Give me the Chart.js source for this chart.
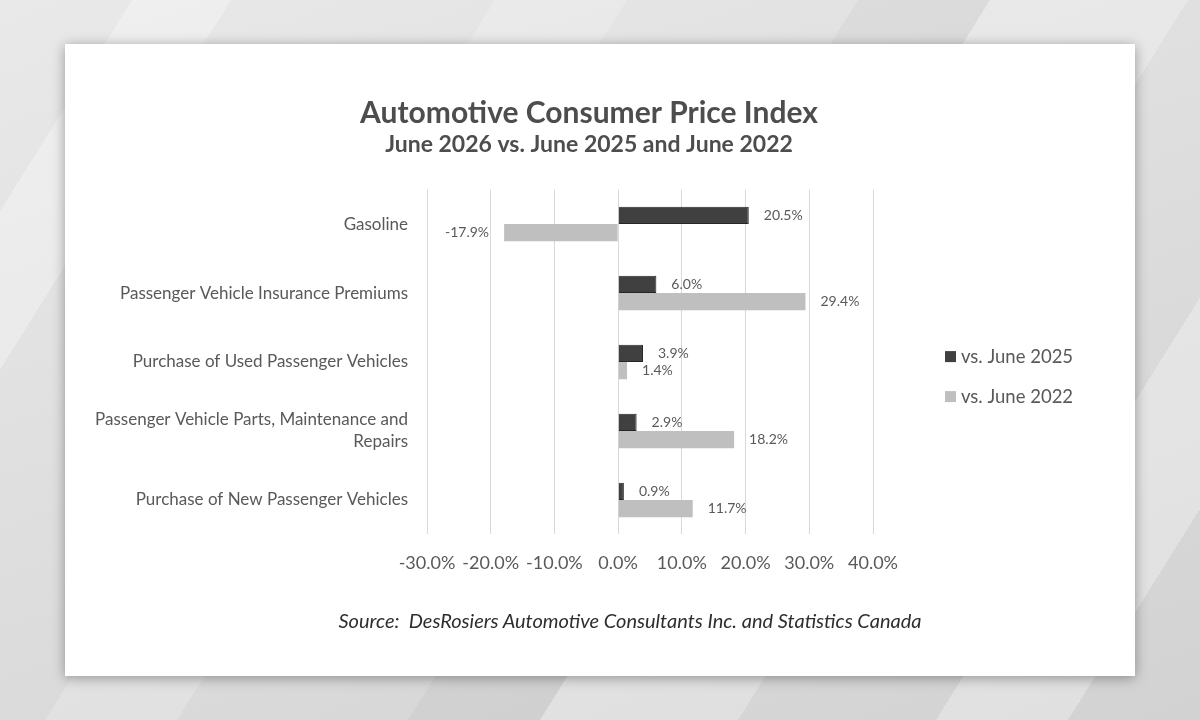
<!DOCTYPE html>
<html>
<head>
<meta charset="utf-8">
<title>Automotive Consumer Price Index</title>
<script src="https://cdn.jsdelivr.net/npm/chart.js@4.4.1/dist/chart.umd.min.js"></script>
<style>
  html, body { margin: 0; padding: 0; }
  body {
    width: 1200px; height: 720px; overflow: hidden; position: relative;
    background-color: #dedede;
    background-image:
      linear-gradient(122deg, rgba(255,255,255,0) 0 8%, rgba(255,255,255,.3) 8% 14%, rgba(255,255,255,0) 14% 30%,
        rgba(255,255,255,.2) 30% 38%, rgba(255,255,255,0) 38% 52%, rgba(0,0,0,.03) 52% 60%,
        rgba(255,255,255,.25) 60% 72%, rgba(255,255,255,0) 72% 84%, rgba(255,255,255,.3) 84% 92%, rgba(255,255,255,0) 92%),
      linear-gradient(160deg, #e9e9e9, #d2d2d2);
    font-family: Lato, "Open Sans", sans-serif;
  }
  .card {
    position: absolute; left: 65px; top: 44px; width: 1070px; height: 632px;
    background: #fff; box-shadow: 0 2px 12px rgba(0,0,0,.35);
  }
  .card canvas { position: absolute; left: 0; top: 0; }
  .source {
    position: absolute; left: 215px; width: 700px; top: 564px;
    text-align: center; font-style: italic; font-size: 20px; color: #2e2e2e;
  }
</style>
</head>
<body>
<div class="card">
  <canvas id="cpiChart" width="1070" height="632"></canvas>
  <div class="source">Source:&nbsp; DesRosiers Automotive Consultants Inc. and Statistics Canada</div>
</div>

<script>
// Chart data
const categories = [
  'Gasoline',
  'Passenger Vehicle Insurance Premiums',
  'Purchase of Used Passenger Vehicles',
  ['Passenger Vehicle Parts, Maintenance and', 'Repairs'],
  'Purchase of New Passenger Vehicles'
];
const seriesNames = ['vs. June 2025', 'vs. June 2022'];
const vsJune2025 = [20.5, 6.0, 3.9, 2.9, 0.9];
const vsJune2022 = [-17.9, 29.4, 1.4, 18.2, 11.7];
const xTicks = [-30, -20, -10, 0, 10, 20, 30, 40];

const textGrey = '#595959';
const fontStack = 'Lato, "Open Sans", sans-serif';
Chart.defaults.font.family = fontStack;
Chart.defaults.color = textGrey;

// Value labels next to each bar end
const barLabels = {
    id: 'barLabels',
    afterDatasetsDraw(chart) {
        const ctx = chart.ctx;
        ctx.save();
        ctx.font = '14px ' + fontStack;
        ctx.fillStyle = textGrey;
        ctx.textBaseline = 'middle';
        chart.data.datasets.forEach((ds, i) => {
            chart.getDatasetMeta(i).data.forEach((bar, j) => {
                const v = ds.data[j];
                const txt = v.toFixed(1) + '%';
                if (v >= 0) {
                    ctx.textAlign = 'left';
                    ctx.fillText(txt, bar.x + 15, bar.y);
                } else {
                    ctx.textAlign = 'right';
                    ctx.fillText(txt, bar.x - 15, bar.y);
                }
            });
        });
        ctx.restore();
    }
};

// Legend drawn to the right of the plot
const sideLegend = {
    id: 'sideLegend',
    afterDraw(chart) {
        const ctx = chart.ctx;
        const area = chart.chartArea;
        const x = area.right + 72;
        ctx.save();
        ctx.font = '18.5px ' + fontStack;
        ctx.textBaseline = 'middle';
        ctx.textAlign = 'left';
        chart.data.datasets.forEach((ds, i) => {
            const y = area.top + 167 + i * 40;
            ctx.fillStyle = ds.backgroundColor;
            ctx.fillRect(x, y - 5.5, 11, 11);
            ctx.fillStyle = textGrey;
            ctx.fillText(ds.label, x + 16, y);
        });
        ctx.restore();
    }
};

new Chart(document.getElementById('cpiChart'), {
    type: 'bar',
    data: {
        labels: categories,
        datasets: [{
            label: seriesNames[0],
            data: vsJune2025,
            backgroundColor: '#404040',
            borderColor: '#262626',
            borderWidth: 1
        }, {
            label: seriesNames[1],
            data: vsJune2022,
            backgroundColor: '#bfbfbf',
            borderWidth: 0
        }]
    },
    options: {
        indexAxis: 'y',
        responsive: false,
        animation: false,
        categoryPercentage: 0.5,
        barPercentage: 1.0,
        layout: {
            padding: { top: 0, left: 20, right: 42, bottom: 84 }
        },
        plugins: {
            legend: { display: false },
            tooltip: { enabled: false },
            title: {
                display: true,
                text: 'Automotive Consumer Price Index',
                color: '#4d4d4d',
                font: { size: 30, weight: 'bold' },
                padding: { top: 51, bottom: 0 }
            },
            subtitle: {
                display: true,
                text: 'June 2026 vs. June 2025 and June 2022',
                color: '#4d4d4d',
                font: { size: 23, weight: 'bold' },
                padding: { top: 0, bottom: 31 }
            }
        },
        scales: {
            x: {
                min: xTicks[0],
                max: xTicks[xTicks.length - 1],
                afterBuildTicks(scale) {
                    scale.ticks = xTicks.map(v => ({ value: v }));
                },
                grid: { color: '#d9d9d9', lineWidth: 1, drawTicks: false },
                border: { display: false },
                ticks: {
                    padding: 18,
                    font: { size: 18 },
                    callback: v => v.toFixed(1) + '%'
                }
            },
            y: {
                grid: { display: false, drawTicks: false },
                border: { display: false },
                afterFit(scale) { scale.width = 342; },
                ticks: {
                    padding: 19,
                    font: { size: 17, lineHeight: 1.3 }
                }
            },
            // empty axis on the right that keeps room for the legend
            legendSpace: {
                axis: 'y',
                type: 'category',
                position: 'right',
                grid: { display: false, drawTicks: false },
                border: { display: false },
                ticks: { display: false },
                afterFit(scale) { scale.width = 220; }
            }
        }
    },
    plugins: [barLabels, sideLegend]
});
</script>
</body>
</html>
